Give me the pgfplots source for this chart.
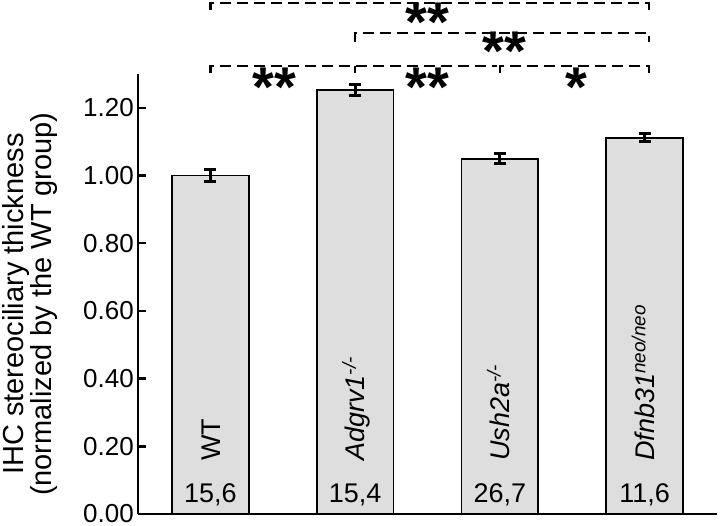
\documentclass[border=0pt]{standalone}
\usepackage{fontspec}
\setmainfont{Liberation Sans}
\usepackage{pgfplots}
\pgfplotsset{compat=1.18}
\usetikzlibrary{calc}
\definecolor{barfill}{RGB}{222,222,222}

\pgfplotstableread{
x  y      e
0  1.000  0.017
1  1.253  0.016
2  1.050  0.014
3  1.112  0.011
}\thickness

\begin{document}
\begin{tikzpicture}
\begin{axis}[
    scale only axis,
    width=579pt, height=440pt,
    xmin=-0.5, xmax=3.5,
    ymin=0, ymax=1.3,
    axis x line=bottom, axis y line=left,
    axis line style={-, line width=2.5pt},
    xtick=\empty,
    ytick={0,0.2,0.4,0.6,0.8,1.0,1.2},
    tick align=inside,
    major tick length=8pt,
    ytick style={line width=2.5pt, black},
    yticklabel style={font=\fontsize{26}{26}\selectfont, inner xsep=4pt, inner ysep=0pt,
        /pgf/number format/.cd, fixed, fixed zerofill, precision=2,
        assume math mode=true},
    ylabel={IHC stereociliary thickness\\(normalized by the WT group)},
    ylabel style={align=center, font=\fontsize{29}{28}\selectfont, inner sep=0pt,
        at={(axis description cs:-0.186,0.477)}, anchor=center},
    ybar, bar width=0.53,
    clip=false,
]
\addplot[fill=barfill, draw=black, line width=1.8pt,
    error bars/.cd, y dir=both, y explicit,
    error bar style={line width=2.8pt, black},
    error mark options={rotate=90, mark size=6pt, line width=2.8pt, black}]
    table[x=x, y=y, y error=e] {\thickness};

\coordinate (O) at (rel axis cs:0,0);

% group labels inside the bars
\node[rotate=90, anchor=base west, inner sep=0, font=\fontsize{27}{27}\selectfont] at (axis cs:0.067,0.157) {WT};
\node[rotate=90, anchor=base west, inner sep=0, font=\fontsize{27}{27}\selectfont\itshape] at (axis cs:1.067,0.157) {Adgrv1\textsuperscript{-/-}};
\node[rotate=90, anchor=base west, inner sep=0, font=\fontsize{27}{27}\selectfont\itshape] at (axis cs:2.067,0.157) {Ush2a\textsuperscript{-/-}};
\node[rotate=90, anchor=base west, inner sep=0, font=\fontsize{27}{27}\selectfont\itshape] at (axis cs:3.067,0.157) {Dfnb31\textsuperscript{neo/neo}};

\node[anchor=base, inner sep=0, font=\fontsize{27}{27}\selectfont] at (axis cs:0,0.035) {15,6};
\node[anchor=base, inner sep=0, font=\fontsize{27}{27}\selectfont] at (axis cs:1,0.035) {15,4};
\node[anchor=base, inner sep=0, font=\fontsize{27}{27}\selectfont] at (axis cs:2,0.035) {26,7};
\node[anchor=base, inner sep=0, font=\fontsize{27}{27}\selectfont] at (axis cs:3,0.035) {11,6};

% significance brackets
\begin{scope}[line width=2.5pt, dash pattern=on 11pt off 6pt]
\draw (axis cs:0,1.489) -- (axis cs:0,1.510) -- (axis cs:3.03,1.510) -- (axis cs:3.03,1.489);
\draw (axis cs:1,1.394) -- (axis cs:1,1.421) -- (axis cs:3.03,1.421) -- (axis cs:3.03,1.394);
\draw (axis cs:0,1.303) -- (axis cs:0,1.3235) -- (axis cs:1.98,1.3235);
\draw (axis cs:1,1.303) -- (axis cs:1,1.3235);
\draw (axis cs:2,1.303) -- (axis cs:2,1.3235) -- (axis cs:3.03,1.3235) -- (axis cs:3.03,1.303);
\end{scope}

\begin{scope}[every node/.style={anchor=base, inner sep=0, font=\fontsize{56}{56}\selectfont\bfseries}]
\node at (axis cs:1.50,1.397) {**};
\node at (axis cs:2.03,1.310) {**};
\node at (axis cs:0.44,1.203) {**};
\node at (axis cs:1.50,1.203) {**};
\node at (axis cs:2.53,1.203) {*};
\end{scope}
\end{axis}
\pgfresetboundingbox
\path ($(O)+(-138pt,-12pt)$) rectangle ($(O)+(582pt,514pt)$);
\end{tikzpicture}
\end{document}
